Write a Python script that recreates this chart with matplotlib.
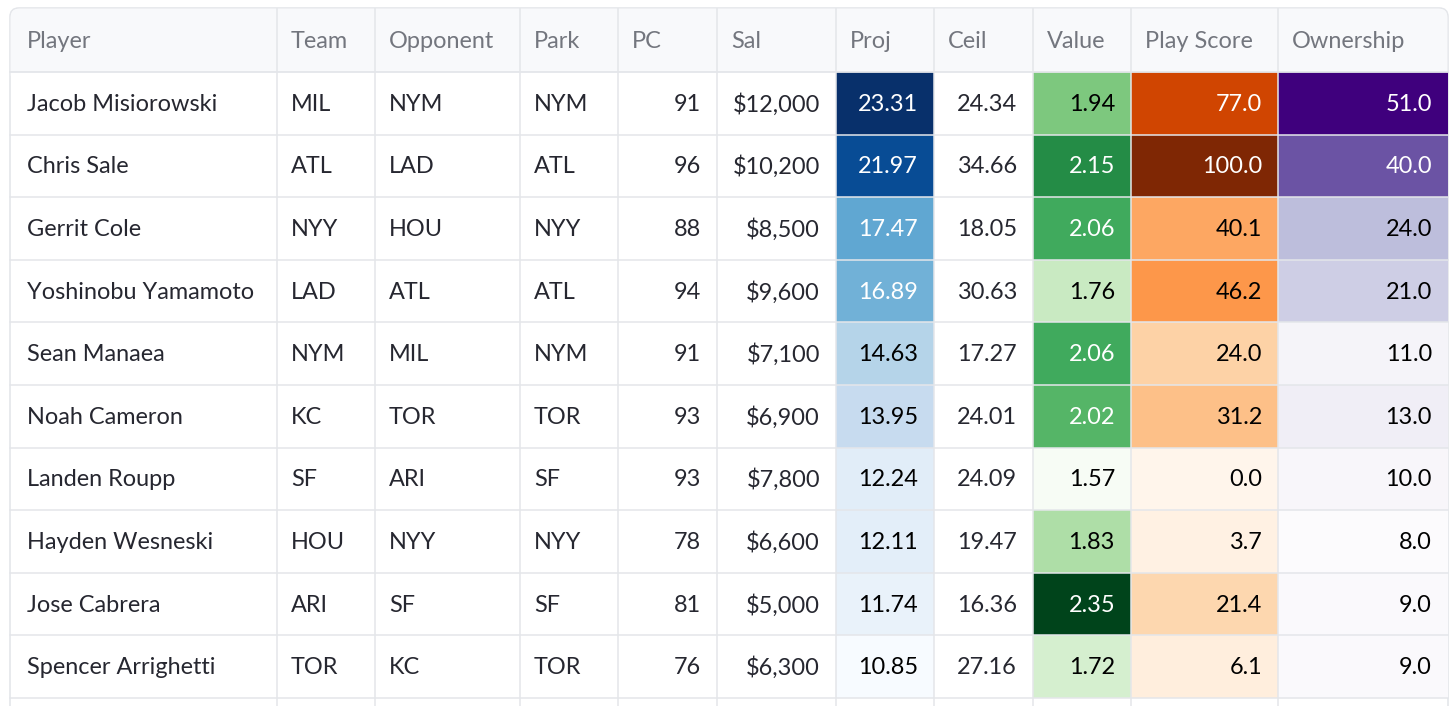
import matplotlib
matplotlib.use("Agg")
import matplotlib.pyplot as plt
from matplotlib.patches import Rectangle, FancyBboxPatch
from matplotlib import colormaps
import numpy as np

columns = ["Player", "Team", "Opponent", "Park", "PC", "Sal", "Proj", "Ceil", "Value", "Play Score", "Ownership"]
players = ["Jacob Misiorowski", "Chris Sale", "Gerrit Cole", "Yoshinobu Yamamoto", "Sean Manaea",
           "Noah Cameron", "Landen Roupp", "Hayden Wesneski", "Jose Cabrera", "Spencer Arrighetti"]
team = ["MIL", "ATL", "NYY", "LAD", "NYM", "KC", "SF", "HOU", "ARI", "TOR"]
opponent = ["NYM", "LAD", "HOU", "ATL", "MIL", "TOR", "ARI", "NYY", "SF", "KC"]
park = ["NYM", "ATL", "NYY", "ATL", "NYM", "TOR", "SF", "NYY", "SF", "TOR"]
pc = [91, 96, 88, 94, 91, 93, 93, 78, 81, 76]
sal = [12000, 10200, 8500, 9600, 7100, 6900, 7800, 6600, 5000, 6300]
proj = [23.31, 21.97, 17.47, 16.89, 14.63, 13.95, 12.24, 12.11, 11.74, 10.85]
ceil = [24.34, 34.66, 18.05, 30.63, 17.27, 24.01, 24.09, 19.47, 16.36, 27.16]
value = [1.94, 2.15, 2.06, 1.76, 2.06, 2.02, 1.57, 1.83, 2.35, 1.72]
play_score = [77.0, 100.0, 40.1, 46.2, 24.0, 31.2, 0.0, 3.7, 21.4, 6.1]
ownership = [51.0, 40.0, 24.0, 21.0, 11.0, 13.0, 10.0, 8.0, 9.0, 9.0]

W, H = 1456, 706
fig = plt.figure(figsize=(W / 100, H / 100), dpi=100)
ax = fig.add_axes([0, 0, 1, 1])
ax.set_xlim(0, W)
ax.set_ylim(H, 0)
ax.axis("off")

font = ["Lato", "DejaVu Sans"]
fs = 16.9
text_color = "#262730"
head_color = "#73767e"
grid_color = "#e4e6ea"

col_w = [267, 98, 145, 98, 99, 119, 98, 99, 98, 147, 170]
x0, y0 = 10, 8
head_h = 64
row_h = 62.6
edges = np.concatenate([[x0], x0 + np.cumsum(col_w)])
right = edges[-1]

cols_data = [
    (players, lambda v: v, "left", None),
    (team, lambda v: v, "left", None),
    (opponent, lambda v: v, "left", None),
    (park, lambda v: v, "left", None),
    (pc, lambda v: f"{v}", "right", None),
    (sal, lambda v: f"${v:,}", "right", None),
    (proj, lambda v: f"{v:.2f}", "right", "Blues"),
    (ceil, lambda v: f"{v:.2f}", "right", None),
    (value, lambda v: f"{v:.2f}", "right", "Greens"),
    (play_score, lambda v: f"{v:.1f}", "right", "Oranges"),
    (ownership, lambda v: f"{v:.1f}", "right", "Purples"),
]

def lum(c):
    r, g, b = c[:3]
    def f(x):
        return x / 12.92 if x <= 0.04045 else ((x + 0.055) / 1.055) ** 2.4
    return 0.2126 * f(r) + 0.7152 * f(g) + 0.0722 * f(b)

def lpad(j):
    return 17 if j == 0 else 14

outer = FancyBboxPatch((x0, y0), right - x0, H + 40 - y0, boxstyle="round,pad=0,rounding_size=9",
                       facecolor="white", edgecolor=grid_color, linewidth=1.2, zorder=0)
ax.add_patch(outer)
hdr = FancyBboxPatch((x0 + 0.6, y0 + 0.6), right - x0 - 1.2, head_h + 10, boxstyle="round,pad=0,rounding_size=9",
                     facecolor="#f8f9fb", edgecolor="none", zorder=0.5)
ax.add_patch(hdr)
ax.add_patch(Rectangle((x0 + 0.6, y0 + head_h), right - x0 - 1.2, 12, facecolor="white", edgecolor="none", zorder=0.6))

for j, name in enumerate(columns):
    ax.text(edges[j] + lpad(j), y0 + head_h / 2 + 1, name, ha="left", va="center",
            fontsize=fs, color=head_color, family=font, zorder=3)

rpad = 16
n = len(players)
for j, (vals, fmt, align, cmap_name) in enumerate(cols_data):
    cmap = colormaps[cmap_name] if cmap_name else None
    if cmap is not None:
        vmin, vmax = min(vals), max(vals)
    for i, v in enumerate(vals):
        top = y0 + head_h + i * row_h
        tc = text_color
        if cmap is not None:
            c = cmap((v - vmin) / (vmax - vmin))
            ax.add_patch(Rectangle((edges[j], top), col_w[j], row_h, facecolor=c, edgecolor="none", zorder=1))
            tc = "white" if lum(c) < 0.408 else "#000000"
        if align == "left":
            ax.text(edges[j] + lpad(j), top + row_h / 2 + 1, fmt(v), ha="left", va="center",
                    fontsize=fs, color=tc, family=font, zorder=3)
        else:
            ax.text(edges[j + 1] - rpad, top + row_h / 2 + 1, fmt(v), ha="right", va="center",
                    fontsize=fs, color=tc, family=font, zorder=3)

for e in edges[1:-1]:
    ax.plot([e, e], [y0, H + 5], color=grid_color, lw=1.1, zorder=2, solid_capstyle="butt")
for i in range(n + 1):
    yy = y0 + head_h + i * row_h
    ax.plot([x0, right], [yy, yy], color=grid_color, lw=1.3 if i == 0 else 1.1, zorder=2)

fig.savefig("out.png", dpi=100, facecolor="white")
